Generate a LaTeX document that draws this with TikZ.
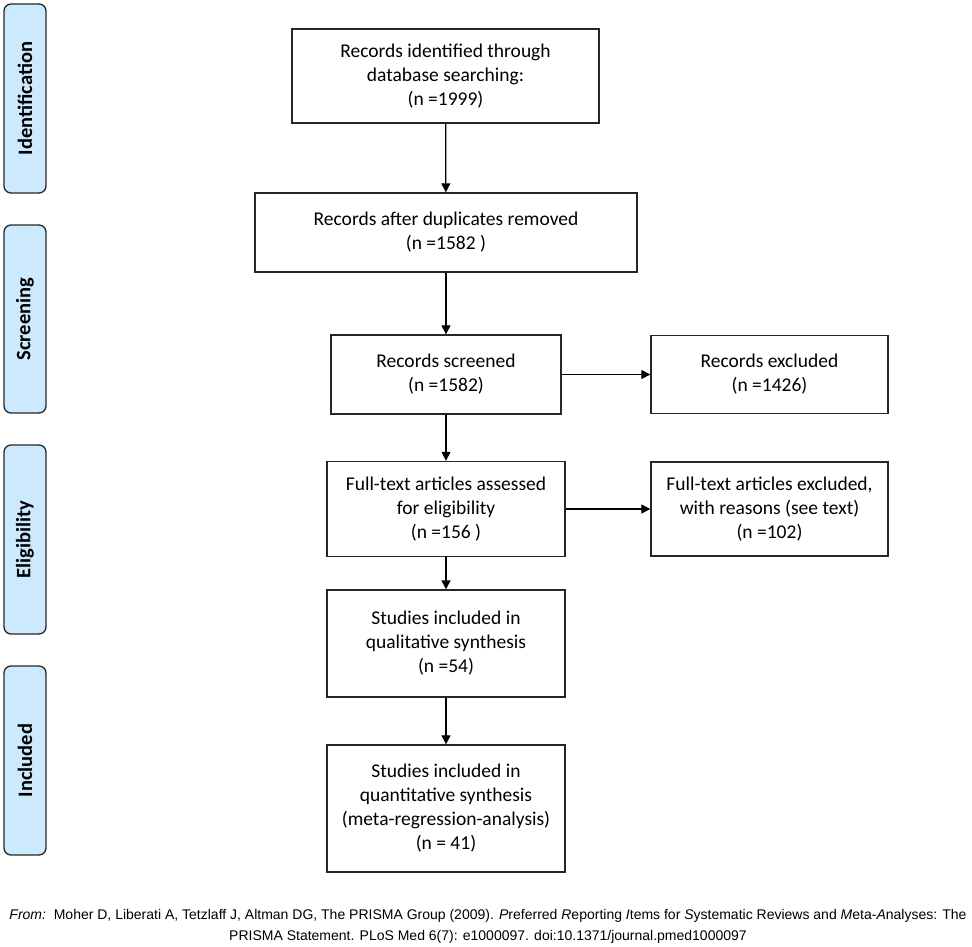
\documentclass[tikz,border=0pt]{standalone}
\usepackage{fontspec}
\setmainfont{Carlito}
\newfontfamily\footfont{Liberation Sans}
\usetikzlibrary{arrows.meta}
\definecolor{tabblue}{RGB}{205,233,254}
\definecolor{tabline}{RGB}{40,40,40}
\tikzset{
  flowbox/.style={draw=black!85, line width=1.4pt, fill=white, align=center,
    inner sep=2pt, font=\fontsize{19.5}{24}\selectfont},
  tabbox/.style={draw=tabline, line width=1.3pt, fill=tabblue, rounded corners=7pt,
    minimum width=42pt, inner sep=0pt},
  tablabel/.style={rotate=90, font=\fontsize{20.5}{24}\selectfont\bfseries},
  flowarrow/.style={line width=1.3pt, -{Triangle[length=9pt,width=9pt]}}
}
\begin{document}
\begin{tikzpicture}[x=1pt,y=-1pt]
\useasboundingbox (0,0) rectangle (972,947);
% phase tabs
\node[tabbox, minimum height=189pt] (t1) at (25,98.5) {};
\node[tablabel] at (t1) {Identification};
\node[tabbox, minimum height=188pt] (t2) at (25,319) {};
\node[tablabel] at (t2) {Screening};
\node[tabbox, minimum height=189pt] (t3) at (25,539.5) {};
\node[tablabel] at (t3) {Eligibility};
\node[tabbox, minimum height=189pt] (t4) at (25,760.5) {};
\node[tablabel] at (t4) {Included};
% flow boxes
\node[flowbox, minimum width=307pt, minimum height=94pt] (b1) at (445.5,76)
  {Records identified through\\database searching:\\(n =1999)};
\node[flowbox, minimum width=382pt, minimum height=79pt] (b2) at (446,232.5)
  {Records after duplicates removed\\(n =1582 )};
\node[flowbox, minimum width=230pt, minimum height=79pt] (b3) at (446,374.5)
  {Records screened\\(n =1582)};
\node[flowbox, minimum width=237pt, minimum height=78pt] (b4) at (769.5,374.5)
  {Records excluded\\(n =1426)};
\node[flowbox, minimum width=238pt, minimum height=95pt] (b5) at (446,509)
  {Full-text articles assessed\\for eligibility\\(n =156 )};
\node[flowbox, minimum width=237pt, minimum height=94pt] (b6) at (769.5,509)
  {Full-text articles excluded,\\with reasons (see text)\\(n =102)};
\node[flowbox, minimum width=238pt, minimum height=107pt] (b7) at (446,643.5)
  {Studies included in\\qualitative synthesis\\(n =54)};
\node[flowbox, minimum width=238pt, minimum height=127pt] (b8) at (446,808.5)
  {Studies included in\\quantitative synthesis\\(meta-regression-analysis)\\(n = 41)};
% arrows
\draw[flowarrow] (b1) -- (b2);
\draw[flowarrow] (b2) -- (b3);
\draw[flowarrow] (b3) -- (b4);
\draw[flowarrow] (b3) -- (b5);
\draw[flowarrow] (b5) -- (b6);
\draw[flowarrow] (b5) -- (b7);
\draw[flowarrow] (b7) -- (b8);
% footer
\node[align=center, font=\footfont\fontsize{14}{21}\selectfont] (foot) at (488,926)
  {\textit{From:}\ \ Moher D, Liberati A, Tetzlaff J, Altman DG, The PRISMA Group (2009). \textit{P}referred \textit{R}eporting \textit{I}tems for \textit{S}ystematic Reviews and \textit{M}eta-\textit{A}nalyses: The\\PRISMA Statement. PLoS Med 6(7): e1000097. doi:10.1371/journal.pmed1000097};
\end{tikzpicture}
\end{document}
